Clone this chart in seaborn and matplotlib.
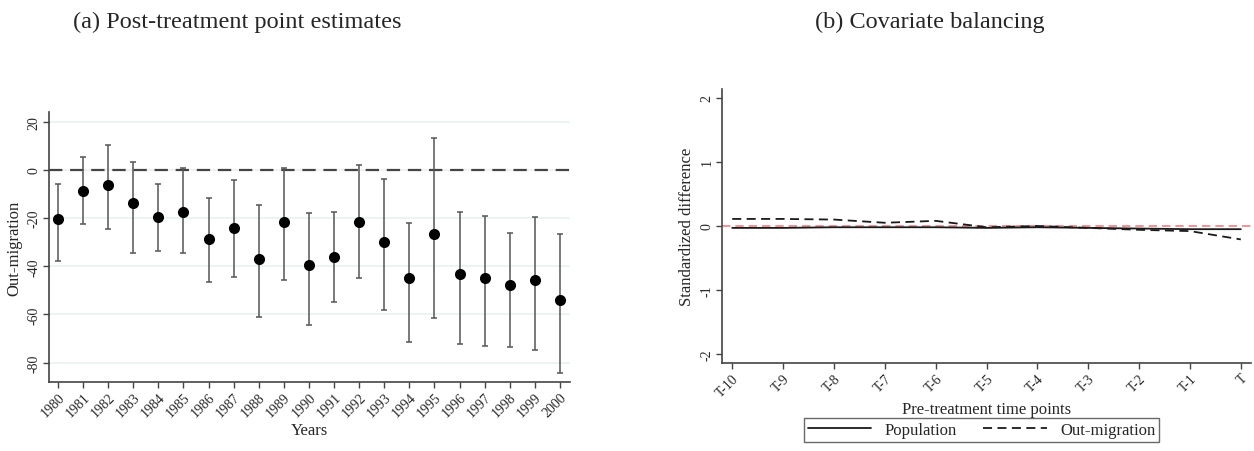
import numpy as np
import pandas as pd
import matplotlib
matplotlib.use("Agg")
import matplotlib.pyplot as plt
from matplotlib.lines import Line2D
import seaborn as sns

# Panel (a): post-treatment point estimates with confidence intervals
years = [1980, 1981, 1982, 1983, 1984, 1985, 1986, 1987, 1988, 1989, 1990,
         1991, 1992, 1993, 1994, 1995, 1996, 1997, 1998, 1999, 2000]
estimates = [-20.2, -8.7, -6.2, -13.9, -19.6, -17.6, -28.8, -24.2, -36.9, -21.6, -39.3,
             -36.2, -21.7, -29.9, -44.9, -26.6, -43.1, -45.0, -47.8, -45.5, -54.1]
ci_lower = [-37.8, -22.6, -24.7, -34.6, -33.6, -34.6, -46.4, -44.3, -60.9, -45.7, -64.5,
            -54.8, -44.9, -58.2, -71.6, -61.4, -72.2, -72.9, -73.3, -74.9, -84.1]
ci_upper = [-6.0, 5.2, 10.2, 3.2, -6.0, 0.8, -11.7, -4.1, -14.6, 0.8, -18.0,
            -17.4, 1.9, -4.0, -22.1, 13.4, -17.5, -19.2, -26.0, -19.7, -26.6]

# Panel (b): standardized differences over pre-treatment time points
time_labels = ["T-10", "T-9", "T-8", "T-7", "T-6", "T-5", "T-4", "T-3", "T-2", "T-1", "T"]
population = [-0.03, -0.03, -0.02, -0.02, -0.02, -0.03, -0.02, -0.03, -0.04, -0.05, -0.05]
out_migration = [0.11, 0.11, 0.10, 0.05, 0.08, -0.02, 0.00, -0.03, -0.06, -0.08, -0.21]

sns.set_style("white")
plt.rcParams["font.family"] = ["Liberation Serif", "DejaVu Serif"]

fig = plt.figure(figsize=(12.54, 4.52), dpi=100)
ax1 = fig.add_axes([0.039, 0.1527, 0.4155, 0.5973])
ax2 = fig.add_axes([0.5758, 0.1947, 0.4222, 0.6063])

spine_col = "#444444"
tick_font = 10

# ---- (a) ----
df_a = pd.DataFrame({"year": years, "est": estimates, "lo": ci_lower, "hi": ci_upper})
for v in [20, 0, -20, -40, -60, -80]:
    ax1.axhline(v, color="#eaf0f0", lw=1.2, zorder=0)
ax1.axhline(0, color="#444444", lw=1.6, ls=(0, (6, 3.5)), zorder=1)
ax1.errorbar(df_a["year"], df_a["est"],
             yerr=[df_a["est"] - df_a["lo"], df_a["hi"] - df_a["est"]],
             fmt="none", ecolor="#555555", elinewidth=1.1, capsize=2.2, capthick=1.1, zorder=2)
sns.scatterplot(data=df_a, x="year", y="est", ax=ax1, color="black", s=64,
                edgecolor="black", linewidth=0, zorder=3)
ax1.set_xlim(1979.64, 2000.4)
ax1.set_ylim(-88, 24)
ax1.set_xticks(years)
ax1.set_xticklabels([str(y) for y in years], rotation=45, ha="right",
                    rotation_mode="anchor", fontsize=tick_font)
ax1.set_yticks([20, 0, -20, -40, -60, -80])
ax1.set_yticklabels(["20", "0", "-20", "-40", "-60", "-80"], rotation=90,
                    va="center", fontsize=tick_font)
ax1.set_xlabel("Years", fontsize=12, labelpad=2)
ax1.set_ylabel("Out-migration", fontsize=12, labelpad=4)
for s in ["top", "right"]:
    ax1.spines[s].set_visible(False)
for s in ["left", "bottom"]:
    ax1.spines[s].set_color(spine_col)
    ax1.spines[s].set_linewidth(1.2)
ax1.tick_params(axis="both", which="both", length=4, width=1, color=spine_col,
                direction="out", left=True, bottom=True, pad=2)

# ---- (b) ----
pos = np.arange(-10, 1)
df_b = pd.DataFrame({"pos": np.concatenate([pos, pos]),
                     "value": population + out_migration,
                     "series": ["Population"] * len(pos) + ["Out-migration"] * len(pos)})
ax2.axhline(0, color="#f08080", lw=1.2, ls=(0, (5, 3)), zorder=1)
sns.lineplot(data=df_b, x="pos", y="value", hue="series", style="series",
             palette={"Population": "#1a1a1a", "Out-migration": "#1a1a1a"},
             dashes={"Population": "", "Out-migration": (5, 3)},
             linewidth=1.3, ax=ax2, legend=False, zorder=2)
ax2.set_xlim(-10.2, 0.21)
ax2.set_ylim(-2.14, 2.14)
ax2.set_xticks(pos)
ax2.set_xticklabels(time_labels, rotation=45, ha="right", rotation_mode="anchor",
                    fontsize=tick_font)
ax2.set_yticks([2, 1, 0, -1, -2])
ax2.set_yticklabels(["2", "1", "0", "-1", "-2"], rotation=90, va="center",
                    fontsize=tick_font)
ax2.set_xlabel("Pre-treatment time points", fontsize=12, labelpad=2)
ax2.set_ylabel("Standardized difference", fontsize=12, labelpad=4)
for s in ["top", "right"]:
    ax2.spines[s].set_visible(False)
for s in ["left", "bottom"]:
    ax2.spines[s].set_color(spine_col)
    ax2.spines[s].set_linewidth(1.2)
ax2.tick_params(axis="both", which="both", length=4, width=1, color=spine_col,
                direction="out", left=True, bottom=True, pad=2)

handles = [Line2D([], [], color="#1a1a1a", lw=1.3),
           Line2D([], [], color="#1a1a1a", lw=1.3, ls=(0, (5, 3)))]
leg = fig.legend(handles, ["Population", "Out-migration"], ncol=2,
                 loc="center", bbox_to_anchor=(981.5 / 1254, 1 - 431 / 452),
                 fontsize=12, frameon=True, fancybox=False, handlelength=3.8,
                 columnspacing=1.6, borderpad=0.25, handletextpad=0.8)
leg.get_frame().set_edgecolor("#444444")
leg.get_frame().set_linewidth(1.0)

fig.text(237 / 1254, 1 - 22 / 452, "(a) Post-treatment point estimates",
         ha="center", va="center", fontsize=17.5)
fig.text(930 / 1254, 1 - 22 / 452, "(b) Covariate balancing",
         ha="center", va="center", fontsize=17.5)

fig.savefig("out.png", dpi=100)
